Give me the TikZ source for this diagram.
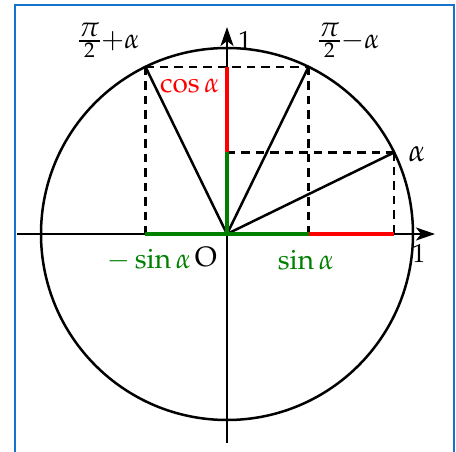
\documentclass[tikz,border=0pt]{standalone}
\usepackage[T1]{fontenc}
\usepackage{mathpazo}
\usetikzlibrary{arrows.meta}
\definecolor{frameblue}{RGB}{20,115,205}
\definecolor{dgreen}{RGB}{0,128,0}
\definecolor{pred}{RGB}{255,0,0}
\tikzset{
  blk/.style={line width=2.5pt, black},
  axisline/.style={line width=2.4pt, -{Stealth[length=19pt,width=13pt,inset=5pt]}},
  dashline/.style={line width=2.3pt, dash pattern=on 8.5pt off 6pt},
  grn/.style={line width=4.4pt, dgreen},
  rd/.style={line width=4.4pt, pred},
  biglab/.style={font=\fontsize{28}{30}\selectfont, inner sep=0pt},
  smalllab/.style={font=\fontsize{26}{28}\selectfont, inner sep=0pt},
  fraclab/.style={font=\fontsize{28}{30}\selectfont, inner sep=0pt},
  alphalab/.style={font=\fontsize{31}{33}\selectfont, inner sep=0pt},
}
\begin{document}
\begin{tikzpicture}[x=1pt,y=1pt]
\useasboundingbox (-227,-218) rectangle (229,234);
% frame
\draw[frameblue, line width=2pt] (-212,-230) -- (-212,229) -- (227,229) -- (227,-230);
% points
\coordinate (O) at (0,0);
\coordinate (A) at (26:186);
\coordinate (B) at (64:186);
\coordinate (C) at (116:186);
\coordinate (Ax) at (A |- O);
\coordinate (Ay) at (A -| O);
\coordinate (Bx) at (B |- O);
\coordinate (By) at (B -| O);
\coordinate (Cx) at (C |- O);
\coordinate (xs) at (-210,0);
\coordinate (xe) at (208,0);
\coordinate (ys) at (0,-209);
\coordinate (ye) at (0,207);
% circle
\draw[blk] (O) circle (186);
% axes
\draw[axisline] (xs) -- (xe);
\draw[axisline] (ys) -- (ye);
% dashed
\draw[dashline] (C) -- (B);
\draw[dashline] (C) -- (Cx);
\draw[dashline] (B) -- (Bx);
\draw[dashline] (Ay) -- (A);
\draw[dashline] (A) -- (Ax);
% radii
\draw[blk] (O) -- (A);
\draw[blk] (O) -- (B);
\draw[blk] (O) -- (C);
% coloured segments
\draw[grn] (Cx) -- (Bx);
\draw[rd] (Bx) -- (Ax);
\draw[grn] (O) -- (Ay);
\draw[rd] (Ay) -- (By);
% labels
\node[smalllab] (one1) at (18,193.5) {$1$};
\node[smalllab] (one2) at (192,-19.5) {$1$};
\node[biglab] (Olab) at (-21,-23) {O};
\node[biglab, text=dgreen] (msin) at (-78,-26) {$-\sin\alpha$};
\node[biglab, text=dgreen] (sin) at (79,-26) {$\sin\alpha$};
\node[biglab, text=pred] (cos) at (-37,148) {$\cos\alpha$};
\node[alphalab] (alab) at (190,79.5) {$\alpha$};
\node[fraclab] (plab) at (-118,193.5) {$\frac{\textstyle\pi}{2}{+}\alpha$};
\node[fraclab] (mlab) at (122,193.5) {$\frac{\textstyle\pi}{2}{-}\alpha$};
\end{tikzpicture}
\end{document}
